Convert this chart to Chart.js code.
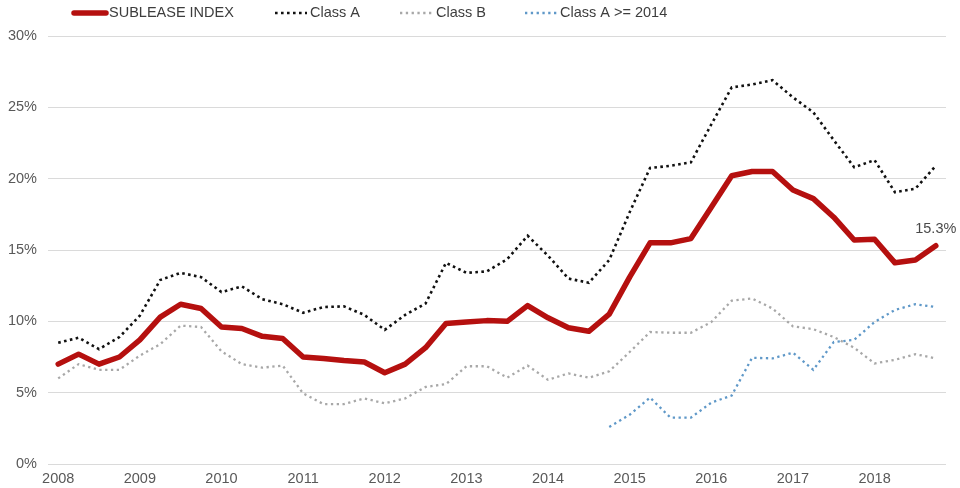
<!DOCTYPE html>
<html>
<head>
<meta charset="utf-8">
<script src="https://cdn.jsdelivr.net/npm/chart.js@4.4.1/dist/chart.umd.min.js"></script>
<style>
  html, body { margin: 0; padding: 0; background: #fff; }
  #wrap { width: 960px; height: 488px; }
</style>
</head>
<body>
<div id="wrap"><canvas id="chart" width="960" height="488"></canvas></div>
<script>
// Trimestres (2008 Q1 - 2018 Q4)
const quarters = [
  '2008 Q1', '2008 Q2', '2008 Q3', '2008 Q4',
  '2009 Q1', '2009 Q2', '2009 Q3', '2009 Q4',
  '2010 Q1', '2010 Q2', '2010 Q3', '2010 Q4',
  '2011 Q1', '2011 Q2', '2011 Q3', '2011 Q4',
  '2012 Q1', '2012 Q2', '2012 Q3', '2012 Q4',
  '2013 Q1', '2013 Q2', '2013 Q3', '2013 Q4',
  '2014 Q1', '2014 Q2', '2014 Q3', '2014 Q4',
  '2015 Q1', '2015 Q2', '2015 Q3', '2015 Q4',
  '2016 Q1', '2016 Q2', '2016 Q3', '2016 Q4',
  '2017 Q1', '2017 Q2', '2017 Q3', '2017 Q4',
  '2018 Q1', '2018 Q2', '2018 Q3', '2018 Q4'
];

// Etiquetas del eje X (una por año)
const yearTicks = ['2008', '2009', '2010', '2011', '2012', '2013', '2014', '2015', '2016', '2017', '2018'];

// Series (%)
const subleaseIndex = [
  7.0, 7.7, 7.0, 7.5, 8.7, 10.3, 11.2, 10.9, 9.6, 9.5, 8.95, 8.8,
  7.5, 7.4, 7.25, 7.15, 6.4, 7.0, 8.15, 9.85, 9.95, 10.05, 10.0, 11.1,
  10.25, 9.55, 9.3, 10.5, 13.1, 15.5, 15.5, 15.8, 18.0, 20.2, 20.5, 20.5,
  19.2, 18.6, 17.3, 15.7, 15.75, 14.1, 14.3, 15.3
];
const classA = [
  8.5, 8.85, 8.05, 8.9, 10.4, 12.9, 13.4, 13.1, 12.05, 12.45, 11.55, 11.2,
  10.6, 11.0, 11.05, 10.45, 9.4, 10.45, 11.25, 14.1, 13.4, 13.5, 14.35, 16.0,
  14.6, 13.0, 12.7, 14.3, 17.65, 20.75, 20.9, 21.15, 23.8, 26.4, 26.6, 26.9,
  25.7, 24.65, 22.7, 20.8, 21.3, 19.05, 19.3, 20.9
];
const classB = [
  6.0, 7.0, 6.6, 6.6, 7.6, 8.4, 9.7, 9.6, 7.9, 7.0, 6.75, 6.9,
  4.95, 4.2, 4.2, 4.6, 4.25, 4.6, 5.4, 5.6, 6.85, 6.85, 6.05, 6.9,
  5.9, 6.35, 6.05, 6.5, 7.85, 9.25, 9.2, 9.2, 9.95, 11.45, 11.6, 10.9,
  9.65, 9.45, 8.9, 8.15, 7.05, 7.3, 7.7, 7.4
];
const classA2014 = [
  null, null, null, null, null, null, null, null, null, null, null, null,
  null, null, null, null, null, null, null, null, null, null, null, null,
  null, null, null, 2.6, 3.45, 4.65, 3.25, 3.25, 4.3, 4.8, 7.45, 7.4,
  7.8, 6.6, 8.55, 8.7, 9.95, 10.8, 11.2, 11.0
];

const FONT = '"Liberation Sans", Arial, Helvetica, sans-serif';
Chart.defaults.font.family = FONT;
Chart.defaults.font.size = 14.5;
Chart.defaults.color = '#595959';

// Leyenda dibujada arriba, con el estilo de cada serie
const topLegend = {
  id: 'topLegend',
  afterDraw(chart) {
    const ctx = chart.ctx;
    const slots = [[74, 106, 109], [275, 307, 310], [400, 432, 436], [525, 557, 560]];
    chart.data.datasets.forEach((ds, i) => {
      const [x0, x1, tx] = slots[i];
      ctx.save();
      ctx.strokeStyle = ds.borderColor;
      ctx.lineWidth = ds.borderWidth;
      ctx.lineCap = ds.borderCapStyle || 'butt';
      ctx.setLineDash(ds.borderDash || []);
      ctx.beginPath();
      ctx.moveTo(x0, 13);
      ctx.lineTo(x1, 13);
      ctx.stroke();
      ctx.setLineDash([]);
      ctx.fillStyle = '#3d3d3d';
      ctx.font = '14.5px ' + FONT;
      ctx.textBaseline = 'middle';
      ctx.textAlign = 'left';
      ctx.fillText(ds.label, tx, 13);
      ctx.restore();
    });
  }
};

// Etiqueta del último valor del índice
const lastLabel = {
  id: 'lastLabel',
  afterDatasetsDraw(chart) {
    const meta = chart.getDatasetMeta(0);
    const pt = meta.data[meta.data.length - 1];
    const ctx = chart.ctx;
    ctx.save();
    ctx.fillStyle = '#4a4a4a';
    ctx.font = '14.5px ' + FONT;
    ctx.textAlign = 'center';
    ctx.textBaseline = 'middle';
    ctx.fillText(subleaseIndex[subleaseIndex.length - 1].toFixed(1) + '%', pt.x, pt.y - 17);
    ctx.restore();
  }
};

new Chart(document.getElementById('chart'), {
  type: 'line',
  data: {
    labels: quarters,
    datasets: [
      {
        label: 'SUBLEASE INDEX',
        data: subleaseIndex,
        borderColor: '#B5100F',
        borderWidth: 5.5,
        borderCapStyle: 'round',
        borderJoinStyle: 'round',
        pointRadius: 0,
        tension: 0
      },
      {
        label: 'Class A',
        data: classA,
        borderColor: '#111111',
        borderWidth: 2.6,
        borderDash: [2.6, 3.4],
        pointRadius: 0,
        tension: 0
      },
      {
        label: 'Class B',
        data: classB,
        borderColor: '#A8A8A8',
        borderWidth: 2.3,
        borderDash: [2.3, 3.5],
        pointRadius: 0,
        tension: 0
      },
      {
        label: 'Class A >= 2014',
        data: classA2014,
        borderColor: '#5F98C8',
        borderWidth: 2.3,
        borderDash: [2.3, 3.5],
        pointRadius: 0,
        tension: 0
      }
    ]
  },
  options: {
    responsive: false,
    animation: false,
    layout: { padding: { top: 36, right: 14, left: 0, bottom: 0 } },
    plugins: {
      legend: { display: false },
      tooltip: { enabled: false }
    },
    scales: {
      x: {
        offset: true,
        grid: { display: false, drawTicks: false },
        border: { display: false },
        ticks: {
          autoSkip: false,
          maxRotation: 0,
          minRotation: 0,
          padding: 6,
          callback: (value, index) => (index % 4 === 0 ? yearTicks[index / 4] : '')
        },
        afterFit: (scale) => { scale.height = 24; }
      },
      y: {
        min: 0,
        max: 30,
        grid: { color: '#DADADA', lineWidth: 1, drawTicks: false },
        border: { display: false },
        ticks: {
          stepSize: 5,
          padding: 11,
          callback: (v) => v + '%'
        },
        afterFit: (scale) => { scale.width = 48; }
      }
    }
  },
  plugins: [topLegend, lastLabel]
});
</script>
</body>
</html>
